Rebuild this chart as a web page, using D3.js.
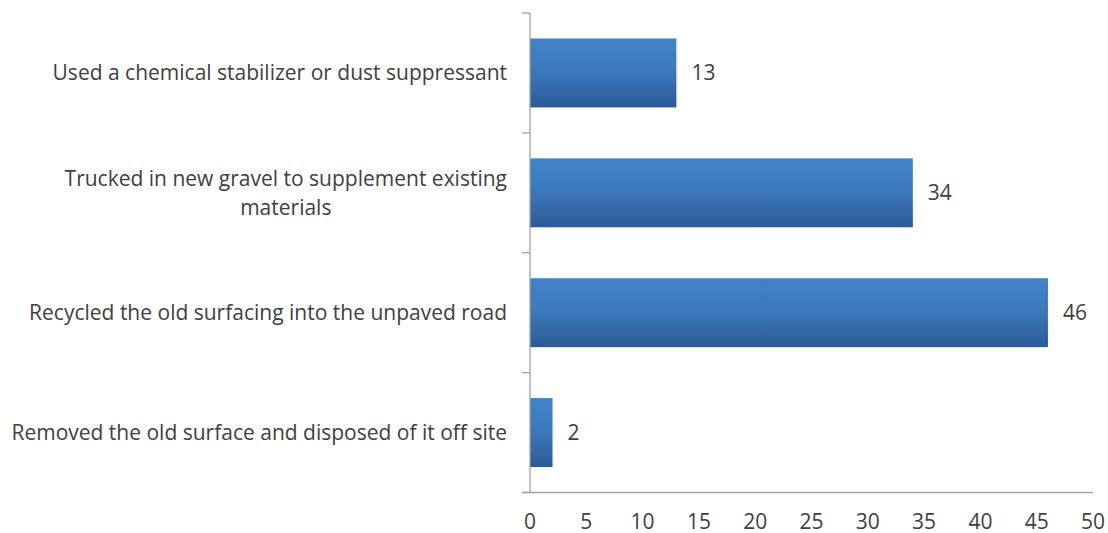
<!DOCTYPE html>
<html>
<head>
<meta charset="utf-8">
<script src="https://cdn.jsdelivr.net/npm/d3@7"></script>
<style>
  html, body { margin: 0; padding: 0; background: #fff; }
  svg { display: block; }
  text { font-family: "Open Sans", "Noto Sans", sans-serif; fill: #404040; }
</style>
</head>
<body>
<svg id="chart" width="1108" height="533"></svg>
<script>
// Data
const categories = [
  "Used a chemical stabilizer or dust suppressant",
  "Trucked in new gravel to supplement existing materials",
  "Recycled the old surfacing into the unpaved road",
  "Removed the old surface and disposed of it off site"
];
const categoryLines = [
  ["Used a chemical stabilizer or dust suppressant"],
  ["Trucked in new gravel to supplement existing", "materials"],
  ["Recycled the old surfacing into the unpaved road"],
  ["Removed the old surface and disposed of it off site"]
];
const values = [13, 34, 46, 2];
const xTicks = [0, 5, 10, 15, 20, 25, 30, 35, 40, 45, 50];

const svg = d3.select("#chart");
const plotLeft = 530, plotRight = 1093, plotTop = 13, plotBottom = 492.5;
const fontSize = 21;

const x = d3.scaleLinear().domain([0, 50]).range([plotLeft, plotRight]);
const y = d3.scaleBand().domain(categories).range([plotTop, plotBottom])
  .paddingInner(0.425).paddingOuter(0.2125);

const defs = svg.append("defs");
const grad = defs.append("linearGradient").attr("id", "barGrad")
  .attr("x1", 0).attr("y1", 0).attr("x2", 0).attr("y2", 1);
grad.append("stop").attr("offset", "0%").attr("stop-color", "#4282c6");
grad.append("stop").attr("offset", "45%").attr("stop-color", "#3c79bd");
grad.append("stop").attr("offset", "100%").attr("stop-color", "#2c5a94");

// Bars
svg.append("g").selectAll("rect").data(values).join("rect")
  .attr("x", x(0))
  .attr("y", (d, i) => y(categories[i]))
  .attr("width", d => x(d) - x(0))
  .attr("height", y.bandwidth())
  .attr("fill", "url(#barGrad)");

// Value labels
svg.append("g").selectAll("text").data(values).join("text")
  .attr("x", d => x(d) + 15)
  .attr("y", (d, i) => y(categories[i]) + y.bandwidth() / 2)
  .attr("dy", "0.35em")
  .style("font-size", fontSize + "px")
  .text(d => d);

// Axes lines
const axisColor = "#a3a3a3";
const step = y.step();
const boundaries = d3.range(categories.length + 1).map(i => plotTop + i * step);
svg.append("line").attr("x1", plotLeft).attr("x2", plotLeft).attr("y1", plotTop).attr("y2", plotBottom)
  .attr("stroke", axisColor).attr("stroke-width", 1.3);
svg.append("g").selectAll("line").data(boundaries).join("line")
  .attr("x1", plotLeft - 8).attr("x2", plotLeft).attr("y1", d => d).attr("y2", d => d)
  .attr("stroke", axisColor).attr("stroke-width", 1.3);
svg.append("line").attr("x1", plotLeft - 8).attr("x2", plotRight).attr("y1", plotBottom).attr("y2", plotBottom)
  .attr("stroke", axisColor).attr("stroke-width", 1.3);

// X tick labels
svg.append("g").selectAll("text").data(xTicks).join("text")
  .attr("x", d => x(d))
  .attr("y", 522)
  .attr("dy", "0.35em")
  .attr("text-anchor", "middle")
  .style("font-size", fontSize + "px")
  .text(d => d);

// Category labels
const labelRight = 507;
const lineH = 29;
categoryLines.forEach((lines, i) => {
  const cy = y(categories[i]) + y.bandwidth() / 2;
  const g = svg.append("g");
  const texts = lines.map((ln, j) => g.append("text")
    .attr("y", cy + (j - (lines.length - 1) / 2) * lineH)
    .attr("dy", "0.35em")
    .style("font-size", fontSize + "px")
    .text(ln));
  const maxW = d3.max(texts, t => t.node().getComputedTextLength());
  const center = labelRight - maxW / 2;
  texts.forEach(t => t.attr("x", center).attr("text-anchor", "middle"));
});
</script>
</body>
</html>
